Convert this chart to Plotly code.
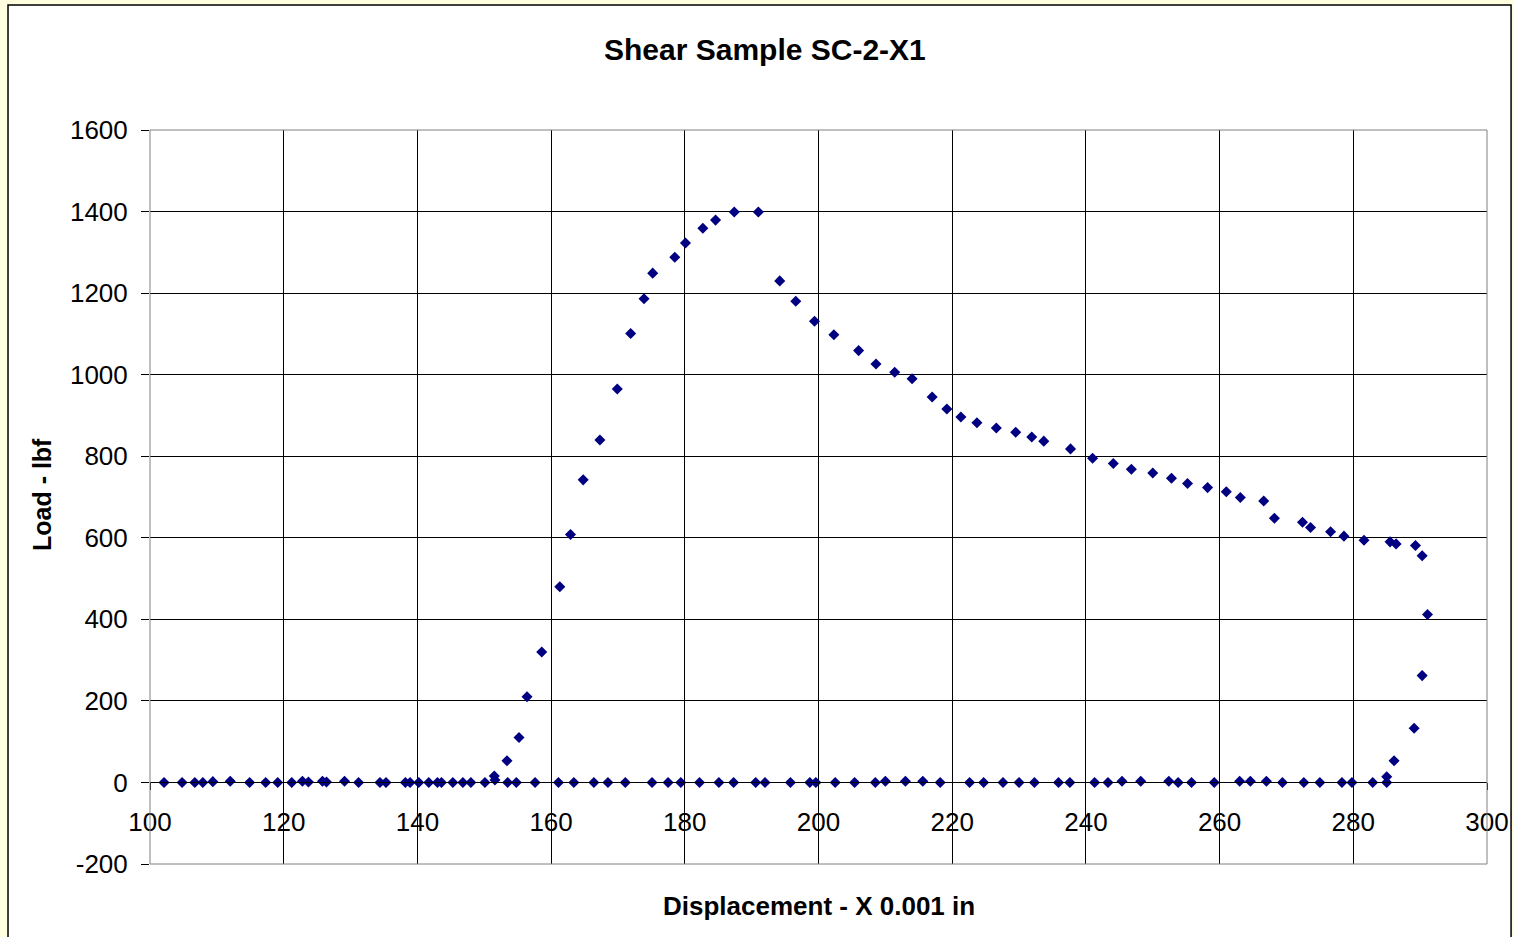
import plotly.graph_objects as go

# displacement (x 0.001 in) and load (lbf)
base_x = [102.1, 104.8, 106.7, 107.9, 109.4, 112.0, 114.9, 117.3, 119.1, 121.2, 122.8, 123.7,
          125.8, 126.4, 129.1, 131.2, 134.4, 135.3, 138.2, 138.9, 140.2, 141.7, 143.0, 143.6,
          145.3, 146.8, 148.0, 150.1, 151.5, 151.6, 153.5, 154.8, 157.6, 161.1, 163.4, 166.4,
          168.5, 171.1, 175.1, 177.5, 179.4, 182.2, 185.1, 187.3, 190.6, 192.0, 195.8, 198.7,
          199.6, 202.5, 205.4, 208.5, 210.0, 213.0, 215.6, 218.2, 222.6, 224.7, 227.6, 230.0,
          232.3, 235.9, 237.6, 241.3, 243.3, 245.4, 248.2, 252.4, 253.8, 255.8, 259.2, 263.0,
          264.6, 267.0, 269.4, 272.6, 275.0, 278.3, 279.8, 282.9, 285.0, 285.0]
base_y = [0, 0, 0, 0, 2, 3, 0, 0, 0, 0, 3, 1,
          3, 1, 3, 0, 0, 0, 0, 0, 0, 0, 0, 0,
          0, 0, 0, 0, 16, 6, 0, 0, 0, 0, 0, 0,
          0, 0, 0, 0, 0, 0, 0, 0, 0, 0, 0, 0,
          0, 0, 0, 0, 3, 3, 3, 0, 0, 0, 0, 0,
          0, 0, 0, 0, 0, 3, 3, 3, 0, 0, 0, 3,
          3, 3, 0, 0, 0, 0, 0, 0, 14, 0]

curve_x = [153.4, 155.2, 156.4, 158.6, 161.3, 162.9, 164.8, 167.3, 169.9, 171.9, 173.9, 175.2,
           178.5, 180.1, 182.7, 184.6, 187.4, 191.0, 194.2, 196.6, 199.4, 202.3, 206.0, 208.6,
           211.4, 214.0, 217.0, 219.2, 221.3, 223.7, 226.6, 229.5, 231.9, 233.7, 237.7, 241.0,
           244.1, 246.8, 250.0, 252.8, 255.2, 258.2, 261.0, 263.1, 266.6, 268.2, 272.4, 273.6,
           276.6, 278.6, 281.6, 285.5, 286.4, 289.3, 290.3, 291.1, 290.3, 289.1, 286.1]
curve_y = [53, 110, 210, 320, 480, 608, 742, 840, 965, 1101, 1186, 1249,
           1288, 1323, 1359, 1379, 1399, 1399, 1230, 1180, 1131, 1098, 1059, 1026,
           1006, 990, 945, 916, 896, 882, 869, 859, 847, 837, 818, 795,
           782, 768, 759, 746, 733, 723, 713, 699, 690, 648, 638, 625,
           615, 604, 594, 590, 585, 581, 556, 412, 262, 133, 53]

x_ticks = [100, 120, 140, 160, 180, 200, 220, 240, 260, 280, 300]
y_ticks = [-200, 0, 200, 400, 600, 800, 1000, 1200, 1400, 1600]

FONT = "Arial, Liberation Sans, sans-serif"
MARK = dict(symbol='diamond', size=8.5, color='#000080', line=dict(width=0))

fig = go.Figure()
fig.add_trace(go.Scatter(x=base_x + curve_x, y=base_y + curve_y, mode='markers',
                         marker=MARK, showlegend=False))

fig.update_layout(width=1514, height=937, autosize=False, paper_bgcolor='#FFFFE0',
                  plot_bgcolor='white', font=dict(family=FONT, color='black', size=26),
                  margin=dict(l=150, r=27, t=130, b=73, autoexpand=False), showlegend=False,
                  xaxis=dict(range=[100, 300], tickvals=x_ticks, ticktext=[str(v) for v in x_ticks],
                             showgrid=True, gridcolor='black', gridwidth=1, anchor='free',
                             position=200 / 1800, showline=True, linecolor='black', linewidth=1,
                             ticks='outside', ticklen=7, tickcolor='black', zeroline=False,
                             ticklabelstandoff=9, tickfont=dict(size=26), automargin=False),
                  yaxis=dict(range=[-200, 1600], tickvals=y_ticks, ticktext=[str(v) for v in y_ticks],
                             showgrid=True, gridcolor='black', gridwidth=1, ticks='outside',
                             ticklen=8, tickcolor='black', zeroline=True, zerolinecolor='black',
                             zerolinewidth=1, showline=False, ticklabelstandoff=8,
                             tickfont=dict(size=26), automargin=False))

# chart frame (white) over yellow page, and plot area border
fig.add_shape(type='rect', xref='paper', yref='paper', x0=-0.1062, x1=1.018, y0=-0.11, y1=1.1703,
              fillcolor='white', line=dict(color='black', width=1.5), layer='below')
fig.add_shape(type='rect', xref='paper', yref='paper', x0=0, x1=1, y0=0, y1=1,
              line=dict(color='#808080', width=1), layer='above')

fig.add_annotation(text='Shear Sample SC-2-X1', xref='paper', yref='paper', x=0.46, y=1.109,
                   xanchor='center', yanchor='middle', showarrow=False,
                   font=dict(family=FONT, size=30, weight='bold'))
fig.add_annotation(text='Displacement - X 0.001 in', xref='paper', yref='paper', x=0.5,
                   y=-0.0572, xanchor='center', yanchor='middle', showarrow=False,
                   font=dict(family=FONT, size=26, weight='bold'))
fig.add_annotation(text='Load - lbf', xref='paper', yref='paper', x=-0.0808, y=0.504,
                   xanchor='center', yanchor='middle', textangle=-90, showarrow=False,
                   font=dict(family=FONT, size=25, weight='bold'))

fig.write_html("out.html", config={'responsive': False, 'displayModeBar': False},
               post_script="document.body.style.margin='0';"
                           "document.body.style.background='#FFFFE0';")
